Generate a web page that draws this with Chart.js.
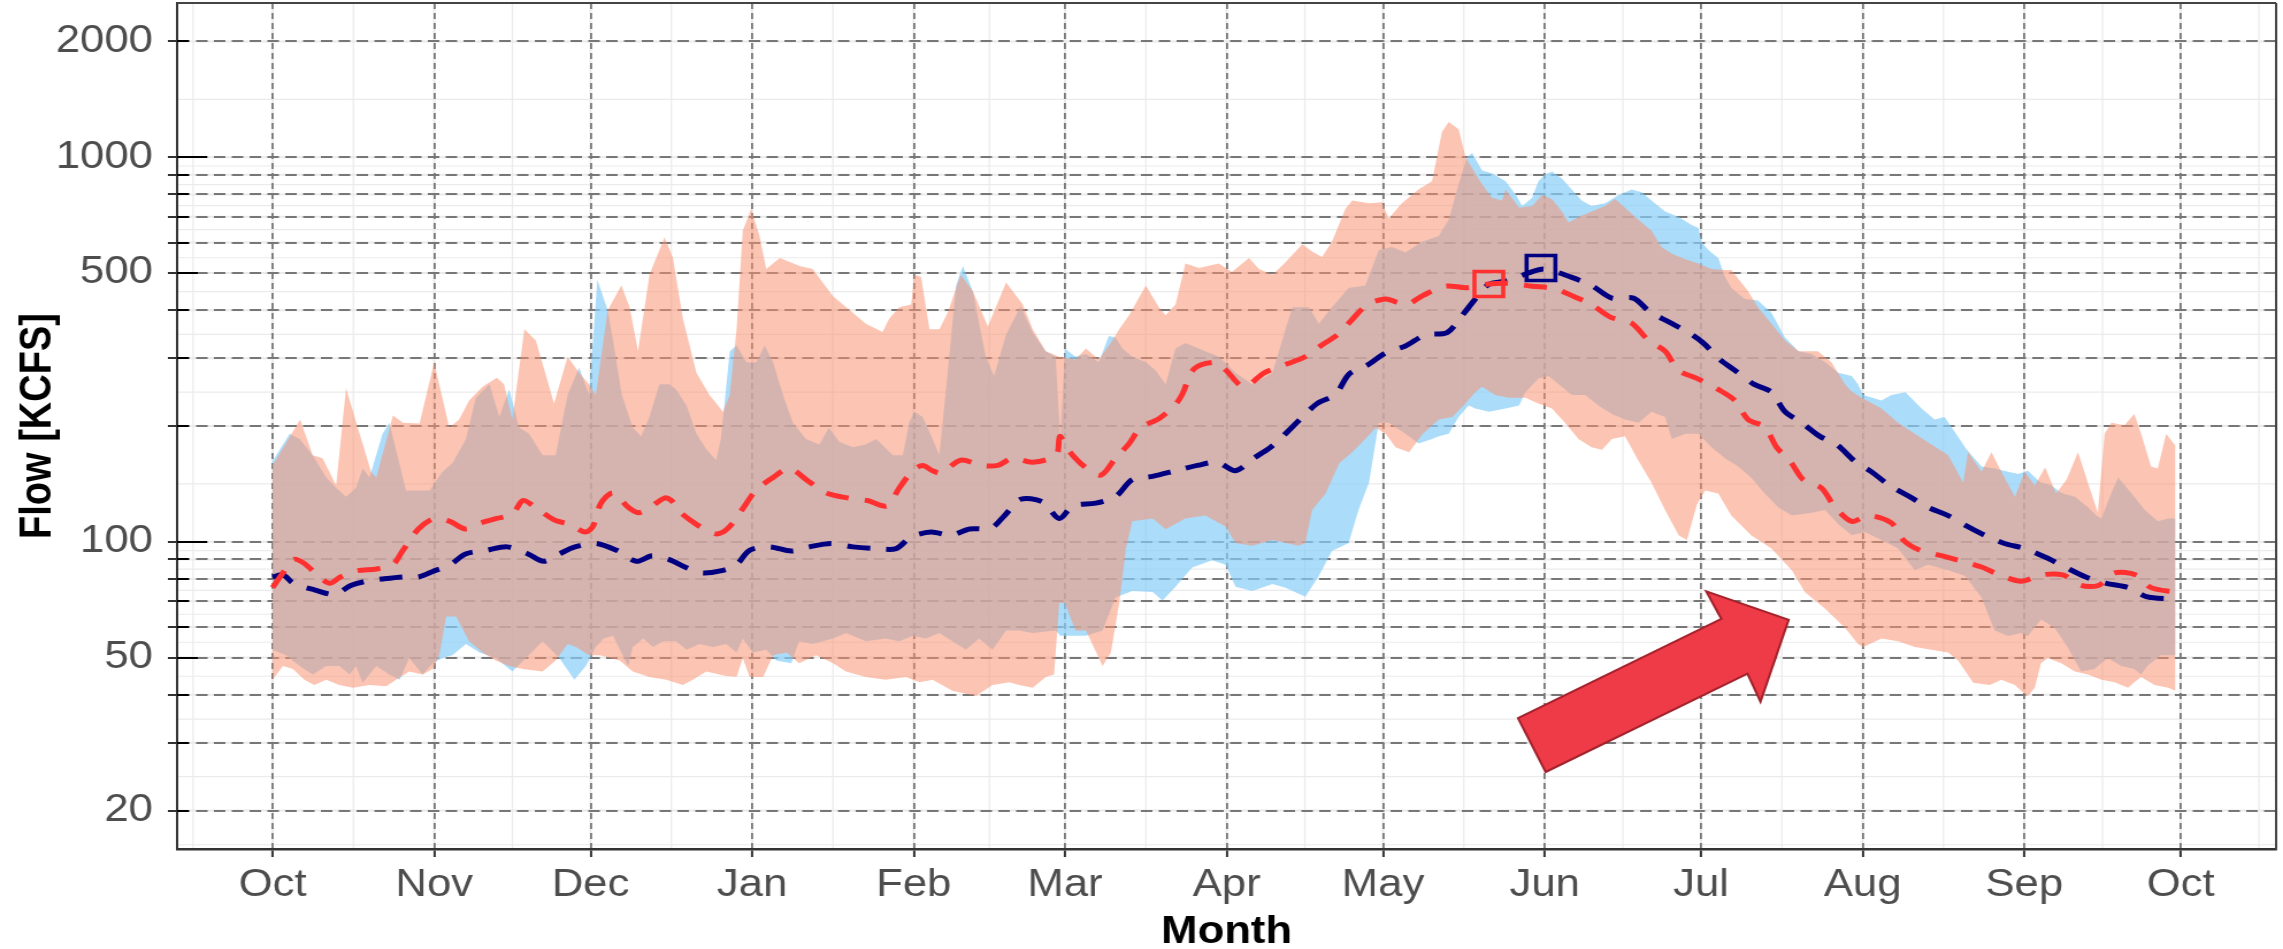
<!DOCTYPE html>
<html>
<head>
<meta charset="utf-8">
<script src="https://cdn.jsdelivr.net/npm/chart.js@4.4.1/dist/chart.umd.min.js"></script>
<style>
html,body{margin:0;padding:0;background:#ffffff;overflow:hidden;}
#wrap{position:absolute;left:0;top:0;width:2283px;height:949px;}
canvas{display:block;}
</style>
</head>
<body>
<div id="wrap"><canvas id="c"></canvas></div>
<script>
// ---------- DATA ----------
const monthDays   = [0, 31, 61, 92, 123, 152, 183, 213, 244, 274, 305, 336, 366];
const monthLabels = ['Oct','Nov','Dec','Jan','Feb','Mar','Apr','May','Jun','Jul','Aug','Sep','Oct'];
const yTickVals   = [20,30,40,50,60,70,80,90,100,200,300,400,500,600,700,800,900,1000,2000];
const yLabelVals  = [20,50,100,500,1000,2000];
const xTitle = 'Month';
const yTitle = 'Flow [KCFS]';

// blue band (upper / lower edge)
const blueTopDays = [0,3.3,5.2,7.7,10.3,12.2,14.1,16,17.3,18.6,21.1,22.4,25.6,30.1,32.6,34.5,37.1,39,41.6,43.5,
  45.4,47.3,49.2,51.8,54.3,56.6,58.8,60.7,62.3,64.3,65.3,67,69.1,70.7,72.3,74.2,76.1,77.4,79.4,81.3,
  83.2,85.1,86,87.7,89,90.9,92.8,94.4,96,97.9,99.8,102.3,104.9,106.7,108.7,111.3,113.8,115.8,119,120.9,
  122.1,123.1,124.7,126.6,127.9,129.5,131.1,132.4,134.3,136.8,138.4,140.7,143.5,145.8,148.3,150.2,151.1,152,154,156,
  158.5,160.4,161.7,163,164.9,167.5,169.4,171.3,173.2,175.1,178.9,181.5,184.7,187.9,191.8,194.3,195.6,198.8,200.7,203.2,
  206.4,209.6,212.2,214.7,217.3,220.5,223.7,225.6,227.5,229.1,230.1,232,233.9,236.5,238.5,239.7,241.6,242.8,244,245.4,
  247.3,249.2,251.1,253,255.6,258.2,260.7,262.6,264.5,267.1,269.7,272.2,273.5,274.1,275.4,277.3,278.6,279.8,282.4,284.9,
  287.5,290.1,292.7,295.2,297.8,300.3,302.9,304.1,305.1,308.6,310.5,313.2,316.3,318.8,320.7,322.9,324.9,327.8,330.3,332.9,
  334.8,336.7,339,341.2,343.1,345.7,348.2,349.8,350.8,352.7,354,356.5,359.1,361.6,363.6,365];
const blueTopVals = [162,191,185,168,147,138,131,138,155,147,191,204,136,136,152,160,185,237,257,211,
  249,198,191,168,168,241,284,241,480,400,334,241,198,188,211,257,257,249,226,191,
  174,163,185,313,324,293,293,324,293,241,204,185,179,198,182,176,179,185,168,168,
  204,218,211,185,168,275,464,521,449,303,270,346,410,350,313,303,185,318,303,308,
  293,343,340,318,303,293,279,257,318,329,313,303,275,257,275,357,407,407,369,407,
  457,464,574,584,565,603,624,688,850,1000,1026,924,909,866,797,747,785,866,900,918,
  880,824,772,747,759,797,824,811,772,723,699,666,655,603,574,547,488,457,428,424,
  394,340,313,308,293,275,270,257,241,233,241,245,222,208,211,191,174,157,155,152,
  150,153,143,140,134,131,123,117,115,134,147,134,121,113,115,115];
const blueBotDays = [0,2.6,5.2,7.7,10.3,12.8,14.8,16,17.3,19.9,22.4,24.4,26.2,28.8,30.7,32.6,34.5,37.1,39.7,42.8,
  46,48.6,51.8,55,57.9,60.1,62,63.5,65.3,68.2,69.1,71.1,73,74.9,77.4,79.4,81.9,84.5,87,89,
  90.2,92.1,94.7,96.6,99.5,101,103.6,107.5,110,113.8,117.6,120.2,122.8,125.3,127.9,130.4,133,135.5,138.1,140.7,
  143.2,145.8,150.2,151.1,156,159.2,161.7,164.9,168.8,170.7,173.2,176.4,180.2,182.8,184.7,187.9,191.8,194.3,198.1,200.7,
  203.2,206.4,208.3,210.3,212.2,214.1,217.3,219.8,222.4,223.7,225.6,227.5,229.4,230.7,233.3,236.5,239.1,240.3,242.8,244.8,
  246.7,249.2,251.8,254.3,256.9,259.4,262,264.5,267.1,268.4,271,273.5,276,278.6,281.1,283.6,286.2,288.8,291.4,295.2,
  297.8,300.3,302.9,305.4,308.6,311.8,315,317.5,321.4,324.6,327.8,330.3,332.9,335.4,336.7,339.2,341.8,344.3,346.9,349.4,
  352,354.6,357.1,358.4,359.6,362.2,365];
const blueBotVals = [52.4,50.7,47.5,45.2,47.5,47.5,45.2,47.5,43,47.5,45.2,43.8,49.9,45.2,48.3,49.9,50.7,54.2,51.5,49.9,
  46,49.9,55.1,49.9,43.8,47.5,53.3,56,57,47.5,53.3,56,53.3,55.1,55.1,52.4,54.2,53.3,54.2,51.5,
  56,51.5,52.4,49.1,48.3,55.1,54.2,56,57.9,55.1,56,55.1,57,56,57.9,55.1,52.4,56,52.4,58.8,
  58.8,57.9,58.8,57,57,58.8,71.6,74.5,74,70.4,76.4,85.7,89.5,87.1,76.4,74.5,77.7,75.9,72,81.6,
  94.6,99.3,120.9,142.5,204,204,191,180,185,188,191,211,226,222,218,222,226,245,266,270,
  257,241,241,226,215,208,204,218,211,185,191,191,176,165,157,147,133.5,123,117,119,
  121,111,104,106,101,96.1,84.3,87.1,84.3,81.6,71.6,58.8,56.9,57.9,56.9,62.8,59.8,53.3,46,46.7,
  49.9,47.5,46.7,45.2,47.5,50.7,50.7];

// salmon band (upper / lower edge)
const salmonTopDays = [0,5.3,7.7,9.6,12.2,14.1,16.7,18.9,19.9,23.1,25,28.2,31,33.9,35.8,37.7,40.3,43,44.4,46,
  48.3,50.5,54,56.6,58.8,60.7,62,64.3,66.9,68.5,70.1,72.3,75.2,76.8,78.7,81.3,83.8,86.4,87.7,89,
  90.2,91.8,93.4,94.7,97.3,101.1,103.6,107.5,111.3,113.8,117,118.3,120.2,122.5,123.1,124.4,126,127.9,129.5,132,
  134.3,137.2,140.7,143.9,145.8,148.3,150.9,154,156,158.5,161.1,162.4,164.3,167.5,170,171.3,173.2,175.1,177.7,181.5,
  184,187.3,189.2,191.8,194.3,197.5,199.4,201.3,203.2,205.8,207.1,210.3,212.8,214.1,216.6,219.8,222.4,224.3,225.6,227.5,
  228.8,230,232,233.9,235.8,236.5,239.1,241.6,243.5,245.4,247.3,248.6,250.5,253,255.6,257.5,259.4,262,264.5,266.4,
  268.4,271,273.5,276,278.6,279.8,283,284.9,287.5,290.1,292.7,296.4,299,301.6,302.9,304.8,308.6,311.8,315,318.2,
  321.4,324.3,325.2,327.8,329.7,331.6,334.2,336.1,338,340,342.1,344.1,346.3,348.2,350.1,351.4,352.7,355.2,357.1,358.4,
  360.3,361.6,363.2,364.8,365];
const salmonTopVals = [158,208,168,165,140,251,191,152,147,213,204,203,293,198,208,233,253,267,257,208,
  357,334,229,303,275,257,241,400,464,407,313,495,619,547,381,275,241,218,241,357,
  644,735,624,512,547,521,512,435,394,369,351,381,407,414,495,488,357,357,394,495,
  449,363,472,414,357,313,303,298,318,298,334,357,388,464,407,388,414,529,515,529,
  503,547,512,495,533,594,569,550,603,735,772,759,764,693,759,824,866,1163,1235,1182,
  1003,940,851,785,772,824,739,747,797,779,723,677,699,723,747,779,739,688,644,584,
  561,543,529,512,509,509,449,407,369,334,313,313,293,257,246,237,222,204,191,179,
  168,142.5,171,152,171,152,131,152,140,156,133.5,145,171,142.5,119,191,204,201,215,191,
  157,155,191,179,179];
const salmonBotDays = [0,2,3.9,6.1,8,10.3,12.8,15.4,18.6,21.8,23.7,26.2,28.8,30.7,32,33.3,35.2,37.7,40.3,42.8,
  45.4,48,51.8,54.3,56.6,58.2,60.7,62.8,66.6,69.1,72.3,75.5,78.7,80.6,83.2,87,89,90.2,91.5,94.1,
  96,98.6,101,104.3,107.5,110,113.8,117.6,121.5,124.1,126.6,130.4,134.9,138.1,141.3,143.2,145.8,148.3,149.9,150.9,
  152,154,156,158,159.2,160.8,162.4,163.7,164.9,168.8,171.3,175.1,178.9,182.8,184.7,187.9,191.8,196.8,198.1,199.4,
  202,204.6,207.1,209.6,211.6,213.5,215.4,218,220.5,223.7,226.3,228.8,230.7,232,234.5,237.1,239.1,240.3,242.8,245.4,
  247.9,250.5,253,255,256.9,259.4,262,264.5,267.1,269.7,271.3,273.2,274.8,277.3,279.8,283.6,287.5,291.4,293.9,297.8,
  301.6,304.1,305.1,308.6,311.8,315,318.2,321.4,323.3,326.2,329.4,331.6,334.2,335.4,336.7,338,339.2,340.5,343.1,345.7,
  348.2,350.8,353.3,355.9,357.1,358.4,361,363.6,365];
const salmonBotVals = [43.8,47.5,46.7,43.8,42.4,43.8,42.4,41.7,42.4,42.1,43.8,46,45.2,46.7,50.7,63.9,63.9,55.1,51.5,49.1,
  47.5,46.7,46,49.1,54.2,53.3,50.7,50.7,49.1,46,44.5,43.8,42.4,43.8,46,44.8,44.6,49.9,44.5,44.5,
  50.7,51.5,48.3,50.7,48.3,46,44.5,43.8,44.5,43.1,43.8,41,39.7,42.4,43.1,42.4,41.7,44.5,45.2,69.3,
  69.3,58.8,58.8,51.5,47.5,51.5,69.3,96.1,113,115,107.8,115,117,109.6,99.3,97.7,101,97.7,99.3,121,
  133.5,160,171,185,198,191,176,171,190,208,211,229,245,253,241,237,237,237,229,222,
  204,185,176,173.5,185,188,162.5,142.5,121,104,101,125,136,133.5,117,104,96.1,84.3,74,67,
  59.8,54.2,53.3,56,55.1,53.3,52.4,51.5,49.1,43,42.4,43.8,42.4,41,39.7,41.7,48.3,49.9,48.3,46,
  45.2,43.8,43.1,41.7,43.1,44.5,42.4,41.7,41];

// median lines
const navyDays = [0,2,4,8,12,15,18,21,25,28,31,34,37,41,45,49,52,55,58,62,
  66,69.8,72.8,76,79.3,82.3,85.9,88.9,91.5,95.3,99.5,103,107.1,111.3,115.8,119.6,122.5,126.3,130.1,133.7,
  137.8,140.4,143.5,147.7,150.9,153.5,157.9,161.7,164.9,168.8,173.2,177.4,181.2,184.7,188.2,191.4,194.3,197.5,200.4,203.9,
  206.5,210,213.5,217.3,221.1,225.3,228.2,230.7,233.3,237.4,240.9,244,249.2,253,256.9,261,264.2,267.8,271.6,274.4,
  277.6,280.5,284.1,287.5,290.1,293.3,296.8,300,303.5,306.7,310.2,314,317.5,321.4,324.9,328.4,332.2,336.1,340.5,344,
  347.8,351.7,356,359.4,363.9,365];
const navyVals = [81,82,78,75,73,77,79,80,81,81,84,87,93,95,97,93,89,93,97,99,
  95,89,92,90,85.7,83,84,87,95,97,94.6,97,99,97,96,96,103,106,104,108,
  108.5,117,129,127,115,124,126,131,145,148,153,158,161,153,165,176,191,211,229,242,
  273,288,310,323,345,350,388,428,467,479,500,512,487,464,430,430,396,373,350,329,
  298,279,257,245,218,204,188,179,162,152,140,131,123,117,110,104,99,96,90.6,85.7,
  81,78,76,72,71,71];
const redDays = [0,2,4,6,9,11,13,16,20,23,25,28,31,34,37,40,43,46,48,50,
  54,57,60,61.5,63,65.3,68.2,70.1,71.7,75.2,76.5,78,81.3,84.8,86.4,88.3,90.2,92.7,95.7,99.1,
  102.7,106.2,110.3,114.1,117.9,120.2,122.8,124.7,126.6,128.2,132,135.9,139.1,142,145.8,150.3,151,152.5,155.7,158.9,
  161.7,164.3,166.5,170,173,174.5,176.8,180.9,182.8,186.3,190.2,194,198.1,201,204.2,206.8,210,213.5,215.6,217.6,
  220.8,224.9,229,233.3,237.1,241.6,246,249.5,253,256.6,260.7,263.9,267.1,269.7,273.2,277.3,280.5,283,286.2,288.5,
  291.1,293.6,297.1,299.7,302.9,306.1,310.5,312.8,316,320.1,324,327.8,331.3,335.4,339.2,343.4,346.9,350.2,353.3,357.4,
  360.3,364.9];
const redVals = [76,83,90,88,81,78,81,84,85,87,95,108,115,113,108,112,115,118,128,124,
  114,111,106,110,126,134,123,119,121,130,128,120,111,105,106,112,122,136,146,155,
  144,134,130,128,124,138,153,158,153,151,163,158,158,165,161,168,188,174,157,149,
  165,180,198,209,226,242,282,293,280,253,275,288,303,323,345,375,414,428,420,414,
  438,462,458,468,470,462,455,435,414,384,370,334,313,279,266,249,233,208,199,176,
  162,145,138,123,113,117,112,101,95,92,89,86,82,79,82,82,77,77,83,82,
  76,74];

// peak markers (squares)
const redPeak  = {day: 233.3, val: 468};
const navyPeak = {day: 243.3, val: 515};

// annotation arrow outline, in data units (day, flow)
const arrowDays = [238.9, 277.9, 275.0, 290.8, 285.4, 282.9, 244.2];
const arrowVals = [34.8, 63.0, 74.3, 62.7, 38.4, 45.4, 25.2];

// minor (light) grid positions
const xMinorDays = [-15.25, 15.5, 46, 76.5, 107.5, 137.5, 167.5, 198, 228.5, 259, 289.5, 320.5, 351, 381];
const yMinorVals = [16.3, 24.5, 34.6, 44.7, 54.8, 64.8, 74.8, 84.9, 94.9, 141.4, 244.9, 346.4, 447.2, 547.7, 648.1, 748.3, 848.5, 948.7, 1414.2];
const logLong = [100, 1000];
const logMid  = [50, 500];

// ---------- LAYOUT ----------
const STRETCH = 1.15;                 // horizontal stretch of the reference picture
const W = Math.round(2283 / STRETCH);
const H = 949;
const cv = document.getElementById('c');
cv.width = W; cv.height = H;
cv.style.width = '2283px'; cv.style.height = '949px';

const xMin = -18.3, xMax = 384.3;
const yMin = 15.89, yMax = 2518;
const AREA_LEFT = Math.round(177 / STRETCH);
const AREA_RIGHT = Math.round(2276 / STRETCH);

const xy = (d, v) => d.map((x, i) => ({x: x, y: v[i]}));

Chart.defaults.font.family = "'Liberation Sans', Arial, Helvetica, sans-serif";

function seg(ctx, x1, y1, x2, y2) { ctx.beginPath(); ctx.moveTo(x1, y1); ctx.lineTo(x2, y2); ctx.stroke(); }
function noPad(s) { s.paddingLeft = 0; s.paddingRight = 0; s.paddingTop = 0; s.paddingBottom = 0; }

const decor = {
  id: 'decor',
  beforeDraw(chart) {
    const {ctx, chartArea: a, scales: {x, y}} = chart;
    ctx.save();
    ctx.fillStyle = '#ffffff';
    ctx.fillRect(0, 0, chart.width, chart.height);
    ctx.strokeStyle = '#ebebeb';
    ctx.lineWidth = 2;
    yTickVals.forEach(v => { const p = y.getPixelForValue(v); seg(ctx, a.left, p, a.right, p); });
    monthDays.forEach(d => { const p = x.getPixelForValue(d); seg(ctx, p, a.top, p, a.bottom); });
    ctx.lineWidth = 1.2;
    yMinorVals.forEach(v => { const p = y.getPixelForValue(v); seg(ctx, a.left, p, a.right, p); });
    xMinorDays.forEach(d => { const p = x.getPixelForValue(d); seg(ctx, p, a.top, p, a.bottom); });
    ctx.restore();
  },
  afterDatasetsDraw(chart) {
    const {ctx, scales: {x, y}} = chart;
    ctx.save();
    ctx.beginPath();
    arrowDays.forEach((d, i) => {
      const px = x.getPixelForValue(d), py = y.getPixelForValue(arrowVals[i]);
      if (i === 0) ctx.moveTo(px, py); else ctx.lineTo(px, py);
    });
    ctx.closePath();
    ctx.fillStyle = '#ef3b47';
    ctx.fill();
    ctx.lineWidth = 2;
    ctx.strokeStyle = '#a3222c';
    ctx.lineJoin = 'miter';
    ctx.stroke();
    ctx.restore();
  },
  afterDraw(chart) {
    const {ctx, chartArea: a, scales: {y}} = chart;
    ctx.save();
    ctx.strokeStyle = '#000000';
    ctx.lineWidth = 2;
    yTickVals.forEach(v => {
      const p = Math.round(y.getPixelForValue(v));
      const len = logLong.includes(v) ? 26 : (logMid.includes(v) ? 18 : 10);
      seg(ctx, a.left, p, a.left + len, p);
    });
    ctx.strokeStyle = '#444444';
    ctx.lineWidth = 2;
    seg(ctx, a.left, a.top, a.right, a.top);
    seg(ctx, a.right, a.top, a.right, a.bottom);
    ctx.restore();
  }
};

const band = (data, fill, color, order) => ({
  data: data, borderColor: 'rgba(0,0,0,0)', borderWidth: 1, pointRadius: 0, tension: 0,
  fill: fill, backgroundColor: color, order: order
});
const median = (data, color, order) => ({
  data: data, borderColor: color, borderWidth: 5, borderDash: [20, 14], pointRadius: 0,
  tension: 0.3, fill: false, order: order
});
const peak = (p, color, order) => ({
  data: [{x: p.day, y: p.val}], showLine: false, pointStyle: 'rect', pointRadius: 17.7,
  pointBorderWidth: 3.6, pointBorderColor: color, pointBackgroundColor: 'rgba(0,0,0,0)',
  borderColor: color, fill: false, order: order
});

new Chart(cv, {
  type: 'line',
  data: {
    datasets: [
      band(xy(blueTopDays, blueTopVals), '+1', 'rgba(135,206,250,0.7)', 8),
      band(xy(blueBotDays, blueBotVals), false, 'rgba(0,0,0,0)', 7),
      band(xy(salmonTopDays, salmonTopVals), '+1', 'rgba(250,146,112,0.54)', 6),
      band(xy(salmonBotDays, salmonBotVals), false, 'rgba(0,0,0,0)', 5),
      median(xy(navyDays, navyVals), '#000080', 4),
      median(xy(redDays, redVals), '#ff3030', 3),
      peak(redPeak, '#ff3030', 2),
      peak(navyPeak, '#000080', 1)
    ]
  },
  options: {
    responsive: false,
    animation: false,
    devicePixelRatio: 1,
    events: [],
    layout: {autoPadding: false, padding: {left: 0, right: W - AREA_RIGHT, top: 3, bottom: 0}},
    plugins: {legend: {display: false}, tooltip: {enabled: false}},
    scales: {
      x: {
        type: 'linear', min: xMin, max: xMax, bounds: 'data',
        afterBuildTicks: s => { s.ticks = monthDays.map(v => ({value: v})); },
        afterFit: s => { s.height = 100; noPad(s); },
        ticks: {autoSkip: false, maxRotation: 0, minRotation: 0, padding: 6, color: '#4d4d4d',
          font: {size: 38}, callback: (v, i) => monthLabels[i]},
        grid: {color: '#777777', lineWidth: 1.8, tickLength: 8, tickColor: '#333333', tickWidth: 2},
        border: {display: true, color: '#333333', width: 2.5, dash: [6, 4]},
        title: {display: true, text: xTitle, color: '#000000',
          font: {size: 38, weight: 'bold', lineHeight: 0.8}, padding: {top: 0, bottom: 1}}
      },
      y: {
        type: 'logarithmic', min: yMin, max: yMax, bounds: 'data',
        afterBuildTicks: s => { s.ticks = yTickVals.map(v => ({value: v})); },
        afterFit: s => { s.width = AREA_LEFT; noPad(s); },
        ticks: {autoSkip: false, padding: 13, color: '#4d4d4d', font: {size: 38},
          callback: v => (yLabelVals.includes(v) ? String(v) : '')},
        grid: {color: '#777777', lineWidth: 2, tickLength: 8, tickColor: '#333333', tickWidth: 2},
        border: {display: true, color: '#333333', width: 2, dash: [10, 5.5]},
        title: {display: true, text: yTitle, color: '#000000',
          font: {size: 38, weight: 'bold'}, padding: {top: 11, bottom: 0}}
      }
    }
  },
  plugins: [decor]
});
</script>
</body>
</html>
